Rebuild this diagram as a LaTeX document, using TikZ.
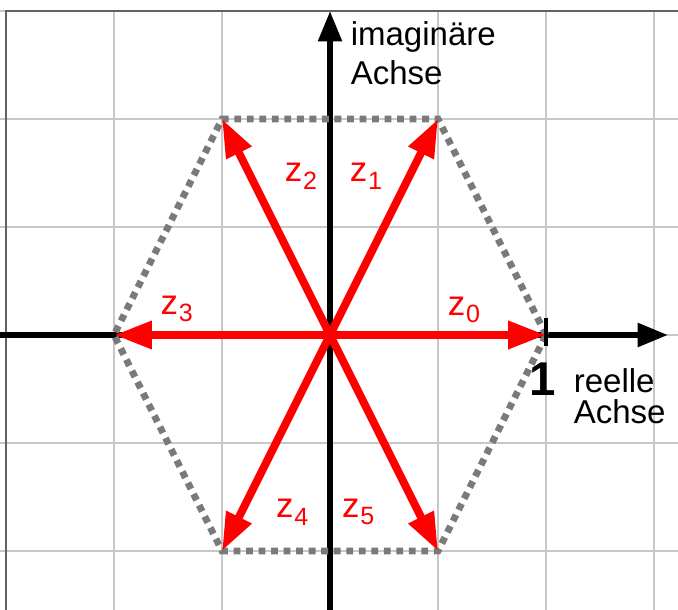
\documentclass[tikz,border=0pt]{standalone}
\usepackage{fontspec}
\setmainfont{Liberation Sans}
\usetikzlibrary{arrows.meta}
\newcommand{\zlabel}[1]{z\kern0.2pt\raisebox{-0.4ex}{\fontsize{6.6}{7}\selectfont #1}}
\tikzset{
  gridline/.style={draw=black!22, line width=0.4pt},
  frameline/.style={draw=black!62, line width=0.55pt},
  axisline/.style={draw=black, line width=1.6pt, -{Triangle[length=8pt,width=6pt]}},
  hexline/.style={draw=black!52, line width=1.8pt, dash pattern=on 1.8pt off 1.5pt},
  vecline/.style={draw=red, line width=2.1pt, -{Triangle[length=10pt,width=7pt]}},
  axlabel/.style={font=\fontsize{8.7}{10}\selectfont, inner sep=0pt, anchor=base west},
  zlab/.style={text=red, font=\fontsize{9.2}{10}\selectfont, inner sep=0pt}
}
\begin{document}
\begin{tikzpicture}
\useasboundingbox (-3.056,-2.546) rectangle (3.222,3.102);
% grid
\draw[gridline] (-3.06,-2.55) grid (3.22,3);
\draw[frameline] (-3,-2.6) -- (-3,3) -- (3.3,3);
% axes
\coordinate (xstart) at (-3.1,0);
\coordinate (xend) at (3.13,0);
\coordinate (ystart) at (0,-2.6);
\coordinate (yend) at (0,3.0);
\draw[axisline] (xstart) -- (xend);
\draw[axisline] (ystart) -- (yend);
% hexagon vertices
\coordinate (O) at (0,0);
\coordinate (v0) at (2,0);
\coordinate (v1) at (1,2);
\coordinate (v2) at (-1,2);
\coordinate (v3) at (-2,0);
\coordinate (v4) at (-1,-2);
\coordinate (v5) at (1,-2);
\draw[hexline] (v0) -- (v1) -- (v2) -- (v3) -- (v4) -- (v5) -- cycle;
% tick
\coordinate (t1) at (2,0.16);
\coordinate (t2) at (2,-0.1);
\draw[line width=1.3pt] (t1) -- (t2);
% vectors
\foreach \i in {0,...,5} { \draw[vecline] (O) -- (v\i); }
% labels
\node[axlabel] (im1) at (0.185,2.685) {imaginäre};
\node[axlabel] (im2) at (0.185,2.324) {Achse};
\node[axlabel] (re1) at (2.25,-0.537) {reelle};
\node[axlabel] (re2) at (2.25,-0.815) {Achse};
\node[font=\fontsize{12.5}{13}\selectfont\bfseries, inner sep=0pt, anchor=base] (one) at (1.97,-0.56) {1};
\node[zlab] (z0) at (1.24,0.23) {\zlabel{0}};
\node[zlab] (z1) at (0.333,1.47) {\zlabel{1}};
\node[zlab] (z2) at (-0.27,1.47) {\zlabel{2}};
\node[zlab] (z3) at (-1.42,0.24) {\zlabel{3}};
\node[zlab] (z4) at (-0.35,-1.64) {\zlabel{4}};
\node[zlab] (z5) at (0.26,-1.64) {\zlabel{5}};
\end{tikzpicture}
\end{document}
